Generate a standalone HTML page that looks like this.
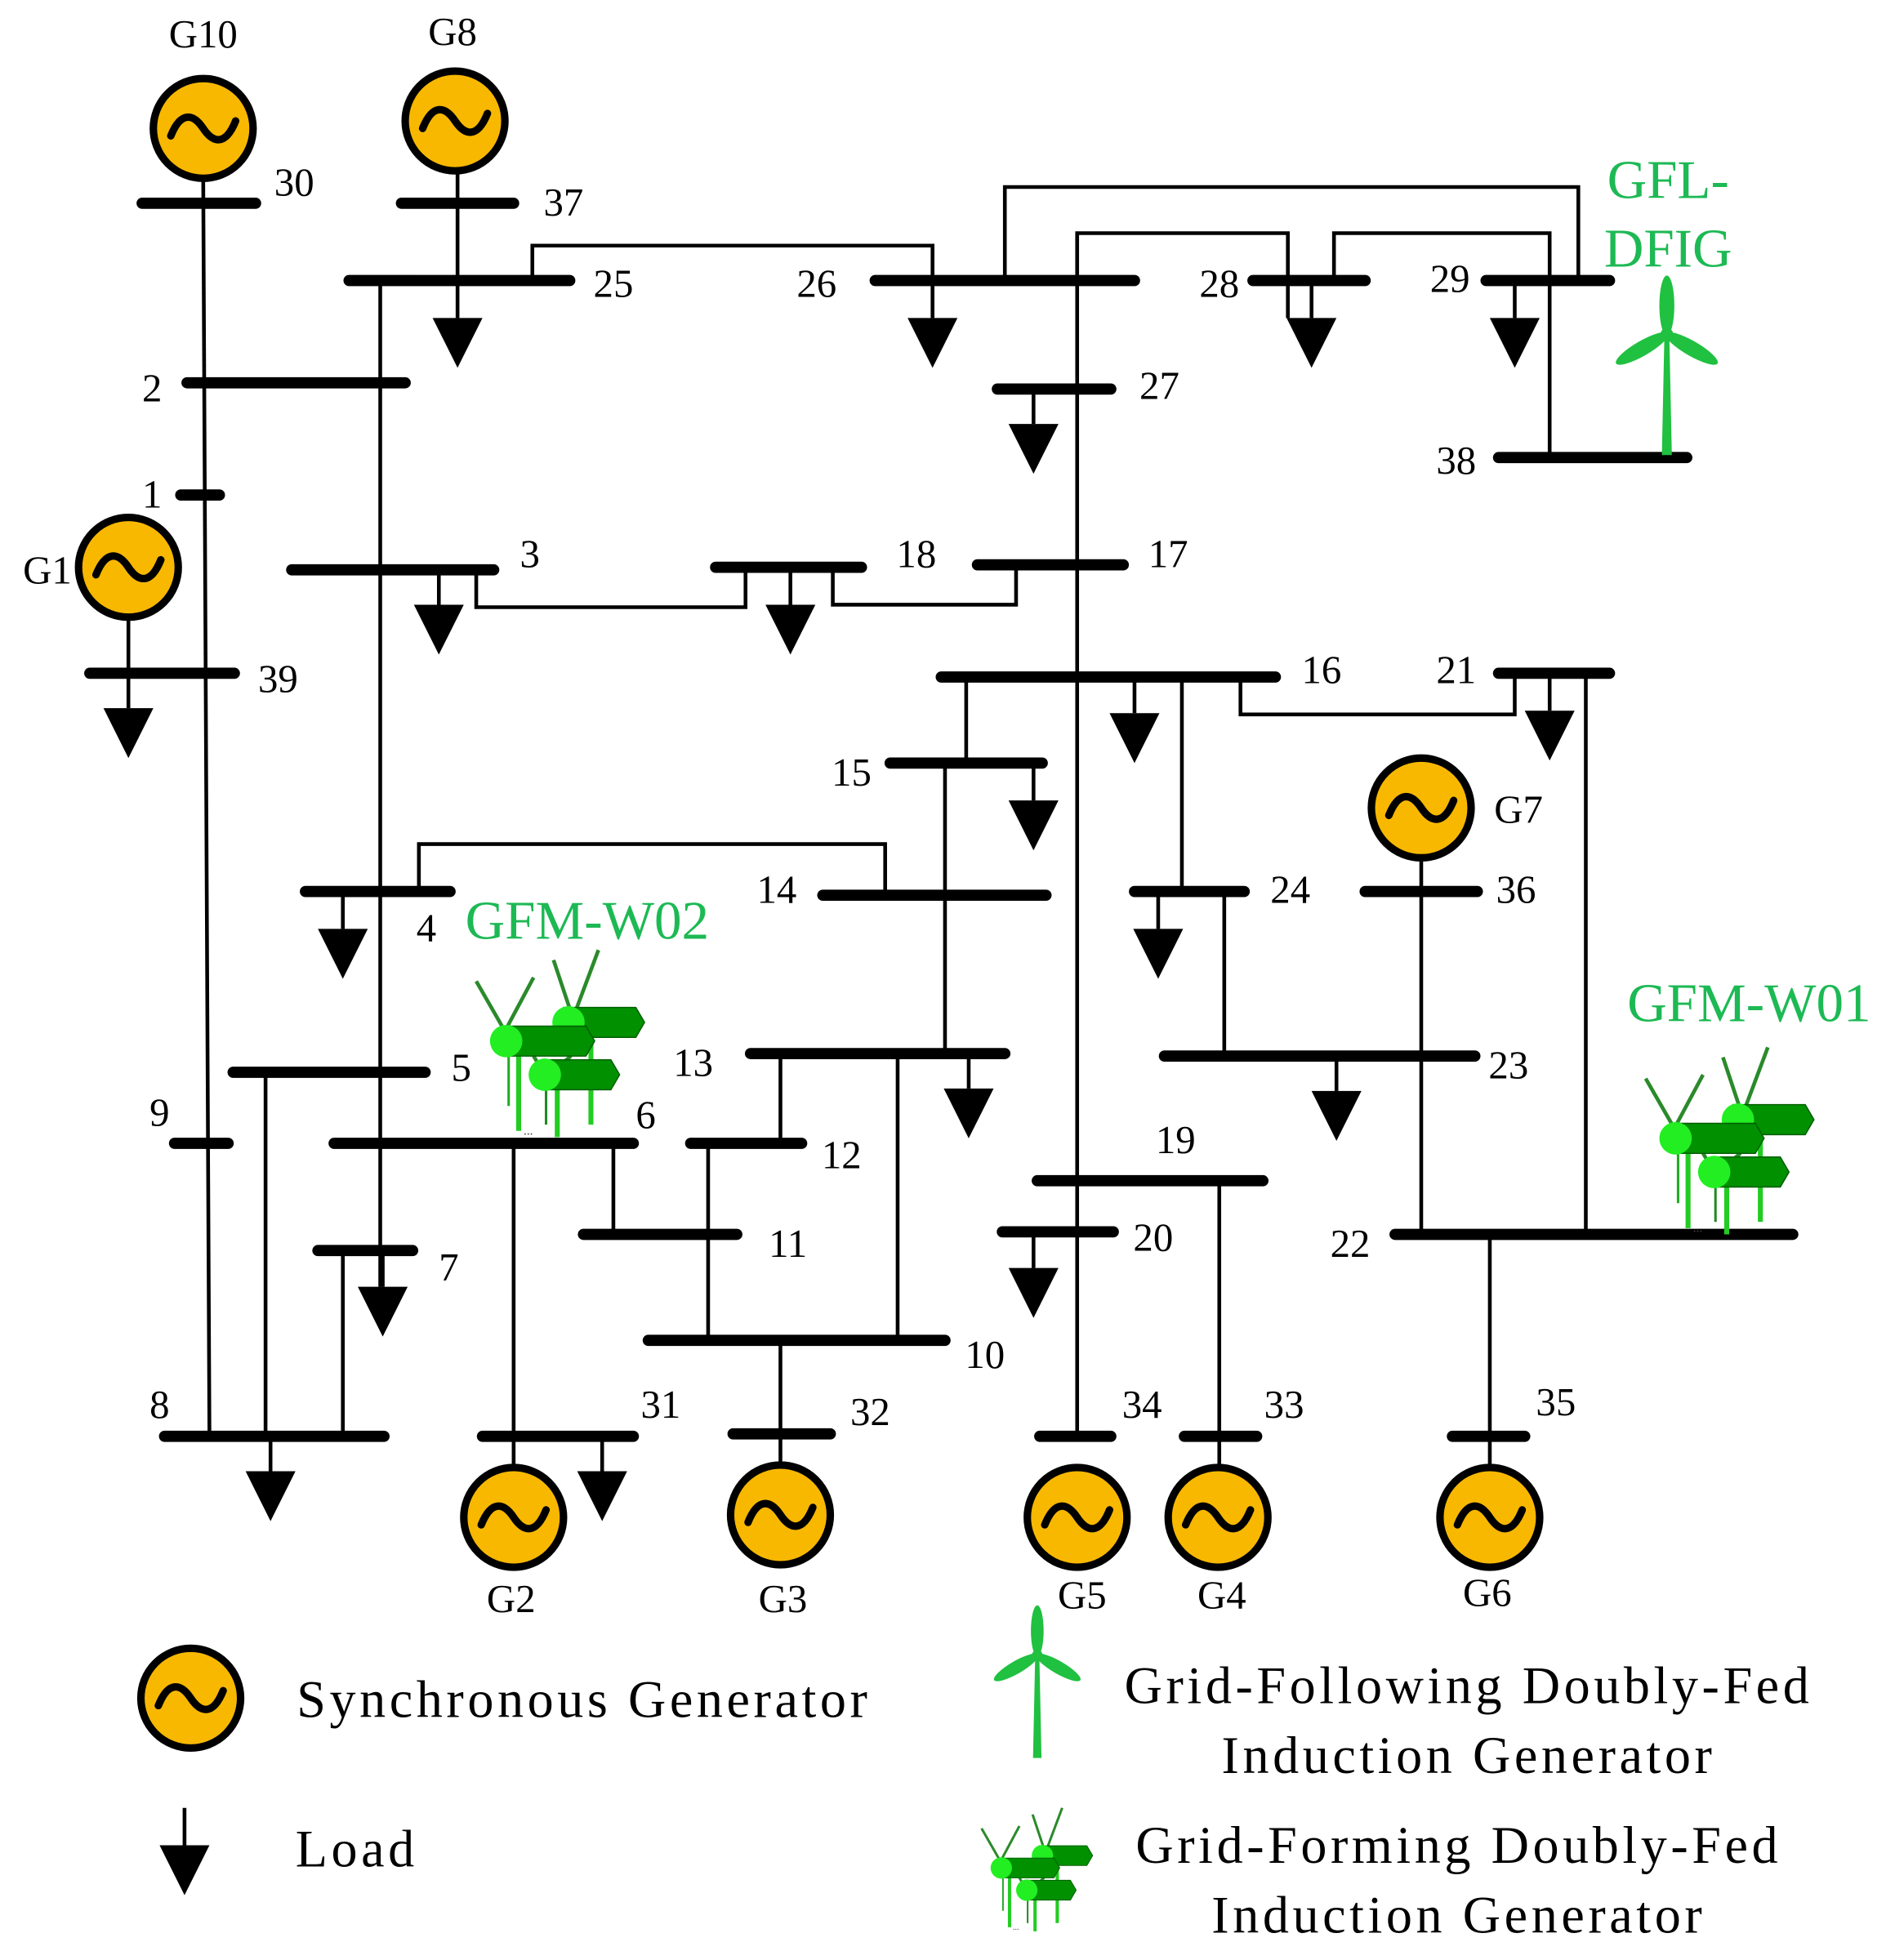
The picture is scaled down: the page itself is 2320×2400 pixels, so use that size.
<!DOCTYPE html>
<html><head><meta charset="utf-8"><style>html,body{margin:0;padding:0;background:#fff}svg{display:block}</style></head><body>
<svg width="2320" height="2400" viewBox="0 0 1520 1572" preserveAspectRatio="none" xmlns="http://www.w3.org/2000/svg" font-family="Liberation Serif, serif">
<defs>
<g id="gen"><circle r="40" fill="#F8B800" stroke="#000" stroke-width="6"/><path d="M-26,6 C-18,-14 -8,-12 0,0 S18,14 26,-6" fill="none" stroke="#000" stroke-width="6" stroke-linecap="round"/></g>
<g id="load"><polygon points="-20,0 20,0 0,40" fill="#000"/></g>
<g id="farm">
<line x1="36" y1="70" x2="36" y2="145" stroke="#22cc22" stroke-width="4"/>
<line x1="28" y1="70" x2="28" y2="125" stroke="#22aa22" stroke-width="2"/>
<line x1="67" y1="100" x2="67" y2="150" stroke="#22cc22" stroke-width="4"/>
<line x1="58" y1="100" x2="58" y2="140" stroke="#228822" stroke-width="2"/>
<line x1="94" y1="60" x2="94" y2="140" stroke="#22cc22" stroke-width="4"/>
<line x1="64" y1="8" x2="78" y2="50" stroke="#2a8a2a" stroke-width="3"/>
<line x1="100" y1="0" x2="82" y2="48" stroke="#2a8a2a" stroke-width="3"/>
<line x1="2" y1="25" x2="25" y2="65" stroke="#2a8a2a" stroke-width="3"/>
<line x1="48" y1="22" x2="25" y2="65" stroke="#2a8a2a" stroke-width="3"/>
<line x1="48" y1="85" x2="57" y2="100" stroke="#2a8a2a" stroke-width="3"/>
<line x1="78" y1="85" x2="60" y2="100" stroke="#2a8a2a" stroke-width="3"/>
<path d="M72,46 L130,46 L137,58 L130,70 L72,70 Z" fill="#009000" stroke="#006000" stroke-width="1"/>
<circle cx="76" cy="58" r="13" fill="#22ee22"/>
<path d="M25,61 L90,61 L97,73 L90,85 L25,85 Z" fill="#009000" stroke="#006000" stroke-width="1"/>
<circle cx="26" cy="73" r="13" fill="#22ee22"/>
<path d="M55,88 L110,88 L117,100 L110,112 L55,112 Z" fill="#009000" stroke="#006000" stroke-width="1"/>
<circle cx="57" cy="100" r="13" fill="#22ee22"/>
<text x="40" y="148" font-size="10" fill="#444">...</text>
</g>
<g id="turb">
<polygon points="-4,0 4,0 2,-95 -2,-95" fill="#20c040"/>
<ellipse cx="0" cy="-120" rx="6" ry="24" fill="#20c040"/>
<ellipse cx="0" cy="-120" rx="6" ry="24" fill="#20c040" transform="rotate(120 0 -97)"/>
<ellipse cx="0" cy="-120" rx="6" ry="24" fill="#20c040" transform="rotate(240 0 -97)"/>
<circle cx="0" cy="-97" r="5" fill="#20c040"/>
</g>
</defs>
<g stroke="#000" stroke-width="3" fill="none">
<path d="M163,143 L168,1152"/>
<path d="M367,137 L367,255"/>
<path d="M427,225 V197 H748 V255"/>
<path d="M806,225 V150 H1266 V225"/>
<path d="M864,225 V187 H1033 V255"/>
<path d="M1070,225 V187 H1243 V367"/>
<path d="M1215,225 V255"/>
<path d="M864,187 V1152"/>
<path d="M829,312 V340"/>
<path d="M305,225 V1032"/>
<path d="M103,495 V568"/>
<path d="M352,457 V485"/><path d="M382,457 V487 H598 V455"/>
<path d="M634,455 V485"/><path d="M668,455 V485 H815 V453"/>
<path d="M910,543 V572"/><path d="M995,543 V573 H1215 V540"/><path d="M1243,540 V570"/>
<path d="M1272,540 V990"/>
<path d="M775,543 V612"/><path d="M948,543 V715"/>
<path d="M829,612 V642"/><path d="M758,612 V845"/>
<path d="M710,718 V677 H336 V715"/>
<path d="M275,715 V745"/>
<path d="M929,715 V745"/><path d="M982,715 V847"/>
<path d="M1140,688 V990"/>
<path d="M1072,847 V875"/>
<path d="M777,845 V873"/>
<path d="M626,845 V917"/><path d="M720,845 V1075"/>
<path d="M213,860 V1152"/>
<path d="M412,917 V1180"/><path d="M492,917 V990"/>
<path d="M568,917 V1075"/>
<path d="M626,1075 V1178"/>
<path d="M275,1003 V1152"/><path d="M307,1003 V1032"/>
<path d="M217,1152 V1180"/>
<path d="M483,1152 V1180"/>
<path d="M978,947 V1178"/>
<path d="M829,988 V1017"/>
<path d="M1195,990 V1178"/>
</g>
<g stroke="#000" stroke-width="9" stroke-linecap="round">
<line x1="114" y1="163" x2="205" y2="163"/>
<line x1="322" y1="163" x2="412" y2="163"/>
<line x1="280" y1="225" x2="457" y2="225"/>
<line x1="702" y1="225" x2="910" y2="225"/>
<line x1="1005" y1="225" x2="1095" y2="225"/>
<line x1="1192" y1="225" x2="1291" y2="225"/>
<line x1="1202" y1="367" x2="1353" y2="367"/>
<line x1="800" y1="312" x2="891" y2="312"/>
<line x1="150" y1="307" x2="325" y2="307"/>
<line x1="145" y1="397" x2="176" y2="397"/>
<line x1="72" y1="540" x2="188" y2="540"/>
<line x1="234" y1="457" x2="396" y2="457"/>
<line x1="574" y1="455" x2="691" y2="455"/>
<line x1="784" y1="453" x2="901" y2="453"/>
<line x1="755" y1="543" x2="1023" y2="543"/>
<line x1="1202" y1="540" x2="1291" y2="540"/>
<line x1="714" y1="612" x2="836" y2="612"/>
<line x1="660" y1="718" x2="839" y2="718"/>
<line x1="245" y1="715" x2="361" y2="715"/>
<line x1="910" y1="715" x2="998" y2="715"/>
<line x1="1095" y1="715" x2="1185" y2="715"/>
<line x1="934" y1="847" x2="1183" y2="847"/>
<line x1="602" y1="845" x2="806" y2="845"/>
<line x1="187" y1="860" x2="341" y2="860"/>
<line x1="140" y1="917" x2="183" y2="917"/>
<line x1="268" y1="917" x2="508" y2="917"/>
<line x1="554" y1="917" x2="643" y2="917"/>
<line x1="468" y1="990" x2="591" y2="990"/>
<line x1="520" y1="1075" x2="758" y2="1075"/>
<line x1="255" y1="1003" x2="331" y2="1003"/>
<line x1="132" y1="1152" x2="308" y2="1152"/>
<line x1="387" y1="1152" x2="508" y2="1152"/>
<line x1="588" y1="1150" x2="666" y2="1150"/>
<line x1="832" y1="947" x2="1013" y2="947"/>
<line x1="804" y1="988" x2="893" y2="988"/>
<line x1="1119" y1="990" x2="1438" y2="990"/>
<line x1="834" y1="1152" x2="891" y2="1152"/>
<line x1="950" y1="1152" x2="1008" y2="1152"/>
<line x1="1165" y1="1152" x2="1223" y2="1152"/>
</g>
<use href="#load" x="367" y="255"/><use href="#load" x="748" y="255"/><use href="#load" x="1052" y="255"/><use href="#load" x="1215" y="255"/>
<use href="#load" x="829" y="340"/><use href="#load" x="103" y="568"/><use href="#load" x="352" y="485"/><use href="#load" x="634" y="485"/>
<use href="#load" x="910" y="572"/><use href="#load" x="1243" y="570"/><use href="#load" x="829" y="642"/><use href="#load" x="275" y="745"/>
<use href="#load" x="929" y="745"/><use href="#load" x="1072" y="875"/><use href="#load" x="777" y="873"/><use href="#load" x="307" y="1032"/>
<use href="#load" x="217" y="1180"/><use href="#load" x="483" y="1180"/><use href="#load" x="829" y="1017"/>
<line x1="1052" y1="225" x2="1052" y2="255" stroke="#000" stroke-width="3"/>
<use href="#gen" x="163" y="103"/><use href="#gen" x="365" y="97"/><use href="#gen" x="103" y="455"/><use href="#gen" x="1140" y="648"/>
<use href="#gen" x="412" y="1217"/><use href="#gen" x="626" y="1215"/><use href="#gen" x="864" y="1217"/><use href="#gen" x="977" y="1217"/><use href="#gen" x="1195" y="1217"/>
<use href="#gen" x="153" y="1362"/>
<use href="#turb" x="1337" y="365"/>
<use href="#farm" transform="translate(380 762) scale(1.0)"/>
<use href="#farm" transform="translate(1318 840) scale(1.0)"/>
<use href="#turb" transform="translate(832 1410) scale(0.85)"/>
<use href="#farm" transform="translate(786 1450) scale(0.66)"/>
<line x1="148" y1="1450" x2="148" y2="1482" stroke="#000" stroke-width="3"/>
<use href="#load" x="148" y="1480"/>
<g font-size="32" fill="#000" text-anchor="middle">
<text x="163" y="38">G10</text><text x="363" y="36">G8</text><text x="236" y="157">30</text><text x="452" y="173">37</text>
<text x="492" y="238">25</text><text x="655" y="238">26</text><text x="978" y="238">28</text><text x="1163" y="234">29</text>
<text x="1168" y="380">38</text><text x="930" y="320">27</text><text x="122" y="322">2</text><text x="122" y="407">1</text>
<text x="38" y="468">G1</text><text x="223" y="555">39</text><text x="425" y="455">3</text><text x="735" y="455">18</text><text x="937" y="455">17</text>
<text x="1060" y="548">16</text><text x="1168" y="548">21</text><text x="683" y="630">15</text><text x="623" y="724">14</text><text x="342" y="755">4</text>
<text x="1035" y="724">24</text><text x="1218" y="660">G7</text><text x="1216" y="724">36</text><text x="1210" y="865">23</text><text x="556" y="863">13</text>
<text x="370" y="867">5</text><text x="128" y="903">9</text><text x="518" y="905">6</text><text x="675" y="937">12</text><text x="632" y="1008">11</text>
<text x="790" y="1097">10</text><text x="360" y="1027">7</text><text x="128" y="1137">8</text><text x="530" y="1137">31</text><text x="698" y="1143">32</text>
<text x="943" y="925">19</text><text x="925" y="1003">20</text><text x="1083" y="1008">22</text><text x="916" y="1137">34</text><text x="1030" y="1137">33</text><text x="1248" y="1135">35</text>
<text x="410" y="1293">G2</text><text x="628" y="1293">G3</text><text x="868" y="1290">G5</text><text x="980" y="1290">G4</text><text x="1193" y="1288">G6</text>
</g>
<g font-size="44" fill="#1db954" text-anchor="middle">
<text x="1338" y="159">GFL-</text><text x="1338" y="214">DFIG</text>
<text x="471" y="753">GFM-W02</text><text x="1403" y="819">GFM-W01</text>
</g>
<g font-size="42" fill="#000" letter-spacing="3">
<text x="238" y="1377">Synchronous Generator</text>
<text x="237" y="1497">Load</text>
<text x="1178" y="1366" text-anchor="middle">Grid-Following Doubly-Fed</text>
<text x="1178" y="1422" text-anchor="middle">Induction Generator</text>
<text x="1170" y="1494" text-anchor="middle">Grid-Forming Doubly-Fed</text>
<text x="1170" y="1550" text-anchor="middle">Induction Generator</text>
</g>
</svg>
</body></html>
